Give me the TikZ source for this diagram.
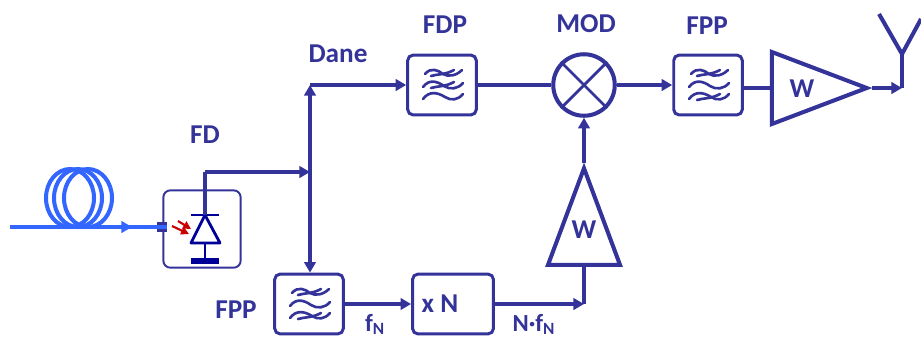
\documentclass[tikz,border=0pt]{standalone}
\usepackage{tikz}
\usepackage{xcolor}
\usepackage{fontspec}
\setmainfont{Carlito}
\usetikzlibrary{arrows.meta,shapes.geometric}
\definecolor{linia}{HTML}{333399}
\definecolor{swiatlo}{HTML}{3366FF}
\definecolor{dioda}{HTML}{000099}
\definecolor{foton}{HTML}{CC0000}
\tikzset{
>={Triangle[length=6pt,width=6.5pt]},
sygnal/.style={line width=2.3pt,color=linia},
blok/.style={draw=linia,line width=1.7pt,rounded corners=3pt,minimum width=39pt,minimum height=34pt,inner sep=0pt},
wzm/.style={draw=linia,line width=2.3pt,isosceles triangle,isosceles triangle stretches,inner sep=0pt,anchor=apex},
opis/.style={text=linia,font=\fontsize{15.5}{17}\selectfont\bfseries,inner sep=0pt},
fala/.style={line width=1.5pt,color=linia,line cap=round},
pics/fale/.style={code={
\draw[fala] (-17,-11) .. controls (-11,-18) and (-4,-15) .. (1,-11) .. controls (6,-8) and (14,-9) .. (20,-15);
\draw[fala] (-19,2) .. controls (-13,-6) and (-5,-4) .. (2,1) .. controls (8,5) and (16,4) .. (21,-2);
\draw[fala] (-19,14) .. controls (-13,6) and (-5,7) .. (3,12) .. controls (9,16) and (16,15) .. (21,9);
\foreach \w in {#1}
\draw[fala] (-11,\w+3) .. controls (-5,\w+1) and (3,\w+2) .. (12,\w-3);
}}
}
\begin{document}
\begin{tikzpicture}[x=0.2mm,y=-0.2mm]
\useasboundingbox (0,0) rectangle (921,339);
%bloki
\node[blok] (fdp) at (442,85){};
\node[blok] (fppg) at (708,85){};
\node[blok] (fppd) at (309,304){};
\node[blok,minimum width=46pt] (mnoz) at (453,304){};
\node[draw=linia,line width=2.3pt,circle,minimum size=35pt,inner sep=0pt] (mod) at (584,85){};
\node[wzm,minimum width=41pt,minimum height=54pt] (wzmg) at (872,88){};
\node[wzm,shape border rotate=90,minimum width=41pt,minimum height=55pt] (wzmd) at (584,163){};
\node[draw=linia,line width=1.1pt,rounded corners=4pt,minimum size=44pt,inner sep=0pt] (fd) at (202,229){};
\pic at (fdp) {fale={-12,0}};
\pic at (fppg) {fale={-12,12}};
\pic at (fppd) {fale={-12,12}};
\draw[line width=1.6pt,color=linia] (mod.45)--(mod.225);
\draw[line width=1.6pt,color=linia] (mod.135)--(mod.315);
%swiatlowod
\foreach \x in {70,78,88}
\draw[swiatlo,line width=2.3pt] (\x,198) ellipse (24 and 29);
\coordinate (start) at (10,227);
\node[fill=linia,minimum width=5.5pt,minimum height=5.5pt,inner sep=0pt] (wej) at (162,227){};
\draw[swiatlo,line width=2.8pt] (start)--(wej.east);
\draw[swiatlo,line width=2.8pt,->] (start)--(132,227);
%fotodioda
\coordinate (katoda) at (205,215);
\coordinate (anoda) at (205,243);
\coordinate (uziem) at (205,261);
\draw[dioda,line width=1.6pt,line join=round] (katoda)--(191,243)--(220,243)--cycle;
\draw[dioda,line width=1.3pt] (191,215)--(219,215);
\draw[dioda,line width=1.5pt] (anoda)--(uziem);
\draw[dioda,line width=3.3pt] (191,261)--(219,261);
\draw[foton,line width=1.2pt,-{Triangle[length=4.5pt,width=4.5pt]}] (172,226)--(189,234);
\draw[foton,line width=1.2pt,-{Triangle[length=4.5pt,width=4.5pt]}] (178,221)--(191,229);
%polaczenia
\coordinate (wezel) at (310,172);
\coordinate (gora) at (310,85);
\coordinate (ant) at (902,88);
\coordinate (rog) at (902,54);
\coordinate (wzmwej) at (584,304);
\draw[sygnal,line width=2pt] (katoda)--(205,172);
\draw[sygnal,->] (205,172)--(wezel);
\draw[sygnal,<->] (gora)--(fppd.north-|wezel);
\draw[sygnal,->] (gora)--(fdp.west);
\draw[sygnal] (fdp.east)--(mod.west);
\draw[sygnal,->] (mod.east)--(fppg.west);
\draw[sygnal] (wzmg.lower side-|fppg.east)--(wzmg.lower side);
\draw[sygnal,->] (wzmg.apex)--(ant);
\draw[sygnal] (ant)--(rog);
\draw[sygnal] (879,14)--(rog)--(921,19);
\draw[sygnal,->] (fppd.east)--(mnoz.west);
\draw[sygnal,->] (mnoz.east)--(wzmwej);
\draw[sygnal] (wzmwej)--(wzmd.lower side);
\draw[sygnal,->] (wzmd.apex)--(mod.south);
%opisy
\node[opis] (opfd) at (205,135){FD};
\node[opis] (dane) at (338,54){Dane};
\node[opis] (opfdp) at (445,25){FDP};
\node[opis] (opmod) at (586,24){MOD};
\node[opis] (opfppg) at (707,26){FPP};
\node[opis] (opfppd) at (236,310){FPP};
\node[opis] (xn) at (440,304){x N};
\node[opis] (wg) at (802,89){W};
\node[opis] (wd) at (584,230){W};
\node[opis,font=\fontsize{14}{16}\selectfont\bfseries,anchor=base] (fn) at (375,331){f\textsubscript{N}};
\node[opis,font=\fontsize{14}{16}\selectfont\bfseries,anchor=base] (nfn) at (534,331){N·f\textsubscript{N}};
\end{tikzpicture}
\end{document}
